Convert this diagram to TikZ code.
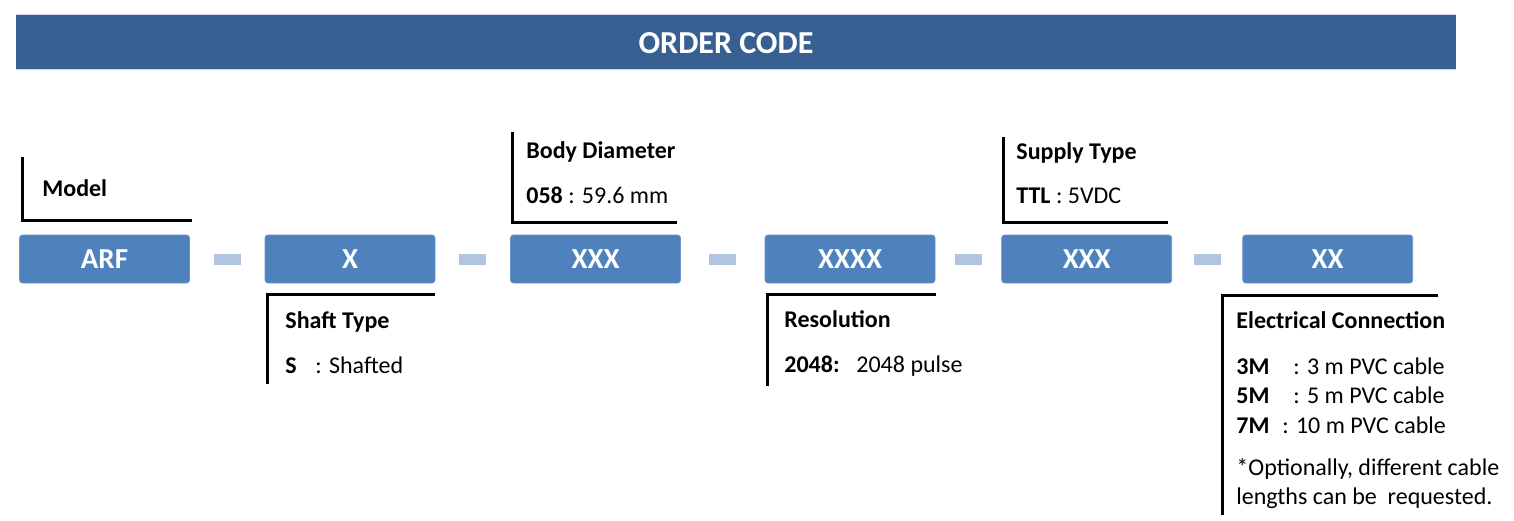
\documentclass[tikz,border=0pt]{standalone}
\usepackage{fontspec}
\setmainfont{Carlito}
\usetikzlibrary{calc,positioning}
\definecolor{titleblue}{HTML}{375F92}
\definecolor{codeblue}{HTML}{4F81BD}
\definecolor{dashblue}{HTML}{B3C4DE}
\tikzset{
  codebox/.style={fill=codeblue,draw=codeblue!85!white,rounded corners=1.5pt,
    minimum width=85pt,minimum height=24pt,inner sep=0pt,text=white,
    font=\fontsize{14.5}{16}\selectfont\bfseries},
  sepbar/.style={fill=dashblue,minimum width=13.5pt,minimum height=5.5pt,inner sep=0pt},
  bracket/.style={line width=1.5pt},
  lbl/.style={anchor=base west,inner sep=0pt,font=\fontsize{12}{14}\selectfont}
}
\begin{document}
\begin{tikzpicture}[x=0.5pt,y=-0.5pt]
    \useasboundingbox (0,0) rectangle (1514,520);
    % title bar
    \fill[titleblue] (16,14) rectangle (1456,69);
    \draw[dashblue!70,thin] (16,14) -- (1456,14) (16,69) -- (1456,69);
    \node[anchor=base,inner sep=0pt,text=white,font=\fontsize{16}{18}\selectfont\bfseries]
      (title) at (726,53) {ORDER CODE};
    % code boxes
    \node[codebox] (arf)    at (104.5,259) {ARF};
    \node[codebox] (shaft)  at (350,259)   {X};
    \node[codebox] (body)   at (595.5,259) {XXX};
    \node[codebox] (res)    at (850,259)   {XXXX};
    \node[codebox] (supply) at (1086.7,259) {XXX};
    \node[codebox] (conn)   at (1327.7,259) {XX};
    \foreach \a/\b in {arf/shaft,shaft/body,body/res,res/supply,supply/conn}
      \node[sepbar] (sep-\a) at ($(\a.east)!0.5!(\b.west)$) {};
    % brackets above
    \draw[bracket] ($(arf.north west)+(3,-78)$) |- ($(arf.north east)+(2,-14)$);
    \draw[bracket] ($(body.north west)+(2,-103)$) |- ($(body.north east)+(-4,-12)$);
    \draw[bracket] ($(supply.north west)+(2.5,-98)$) |- ($(supply.north east)+(-4,-12)$);
    % brackets below
    \draw[bracket] ($(shaft.south west)+(3,101)$) |- ($(shaft.south east)+(0,11)$);
    \draw[bracket] ($(res.south west)+(2.7,103)$) |- ($(res.south east)+(1,11)$);
    \draw[bracket] ($(conn.south west)+(-19.4,232)$) |- ($(conn.south east)+(25,12)$);
    % labels
    \node[lbl] (l-model) at (42,196) {\textbf{Model}};
    \node[lbl] (l-shaft) at (285,328) {\textbf{Shaft Type}};
    \node[lbl] (v-shaft) at (285,373) {\makebox[15pt][l]{\textbf{S}}: Shafted};
    \node[lbl] (l-body) at (526,158) {\textbf{Body Diameter}};
    \node[lbl] (v-body) at (526,203) {\textbf{058} : 59.6 mm};
    \node[lbl] (l-res) at (784,327) {\textbf{Resolution}};
    \node[lbl] (v-res) at (784,372) {\makebox[36pt][l]{\textbf{2048:}}2048 pulse};
    \node[lbl] (l-supply) at (1016,159) {\textbf{Supply Type}};
    \node[lbl] (v-supply) at (1016,203) {\textbf{TTL} : 5VDC};
    \node[lbl] (l-conn) at (1236,328) {\textbf{Electrical Connection}};
    \node[lbl] (v-conn1) at (1236,374) {\makebox[28.5pt][l]{\textbf{3M}}: 3 m PVC cable};
    \node[lbl] (v-conn2) at (1236,403) {\makebox[28.5pt][l]{\textbf{5M}}: 5 m PVC cable};
    \node[lbl] (v-conn3) at (1236,433) {\makebox[23pt][l]{\textbf{7M}}: 10 m PVC cable};
    \node[lbl] (note1) at (1236,475) {*Optionally, different cable};
    \node[lbl] (note2) at (1236,504) {lengths can be\ \ requested.};
\end{tikzpicture}
\end{document}
